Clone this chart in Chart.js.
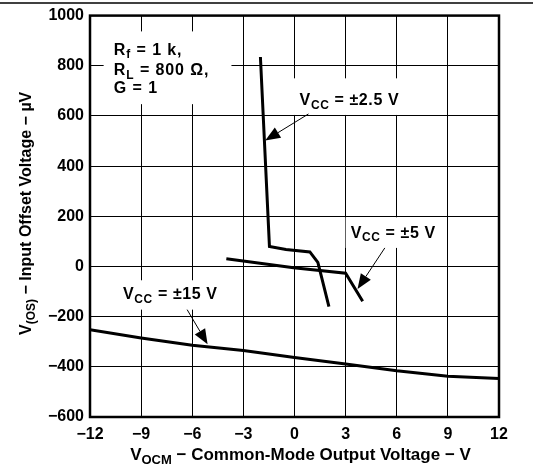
<!DOCTYPE html>
<html>
<head>
<meta charset="utf-8">
<script src="https://cdn.jsdelivr.net/npm/chart.js@4/dist/chart.umd.min.js"></script>
<style>
  body { margin: 0; background: #fff; }
  #wrap { width: 533px; height: 470px; }
</style>
</head>
<body>
<div id="wrap"><canvas id="offsetChart" width="533" height="470"></canvas></div>
<script>
// Datos (V_OCM en V, V_OS en µV)
const vcc25X = [-2.0, -1.47, -0.5, 0.9, 1.37, 1.57, 2.02];
const vcc25Y = [835, 80, 68, 58, 16, -37, -160];

const vcc5X = [-4.0, -0.05, 3.0, 4.0];
const vcc5Y = [31, -5, -27, -139];

const vcc15X = [-12, -9, -6, -3, 0, 3, 6, 9, 12];
const vcc15Y = [-252, -285, -314, -335, -363, -389, -416, -438, -447];

const xTicks = [-12, -9, -6, -3, 0, 3, 6, 9, 12];
const yTicks = [-600, -400, -200, 0, 200, 400, 600, 800, 1000];

const FONT = "'Liberation Sans', Arial, Helvetica, sans-serif";

// Etiquetas (en unidades de datos): caja blanca, texto y flecha
const notes = [
    {
        box: [-11.2, 937, -3.7, 647],
        spacing: 0.9,
        lines: [
            { x: -10.6, y: 862, parts: [['R'], ['f', true], [' = 1 k,']] },
            { x: -10.6, y: 780, parts: [['R'], ['L', true], [' = 800 \u03A9,']] },
            { x: -10.6, y: 710, parts: [['G = 1']] }
        ]
    },
    {
        box: [-0.25, 750, 6.8, 604],
        spacing: 0.6,
        lines: [{ x: 0.3, y: 662, parts: [['V'], ['CC', true], [' = \u00B12.5 V']] }],
        arrow: [0.82, 608, -1.72, 502]
    },
    {
        box: [3.0, 196, 8.9, 74],
        spacing: 0.6,
        lines: [{ x: 3.3, y: 133, parts: [['V'], ['CC', true], [' = \u00B15 V']] }],
        arrow: [5.3, 74, 3.7, -90]
    },
    {
        box: [-10.5, -55, -4.06, -172],
        spacing: 0.6,
        lines: [{ x: -10.06, y: -114, parts: [['V'], ['CC', true], [' = \u00B115 V']] }],
        arrow: [-6.3, -172, -5.1, -310]
    }
];

function toPoints(xs, ys) {
    return xs.map((x, i) => ({ x: x, y: ys[i] }));
}

function fmt(v) {
    return String(v).replace('-', '\u2212');
}

// Texto con subíndices
function drawRich(ctx, parts, x, y, size) {
    let cx = x;
    parts.forEach(p => {
        const sub = p[1] === true;
        ctx.font = `bold ${sub ? Math.round(size * 0.78) : size}px ${FONT}`;
        ctx.fillText(p[0], cx, sub ? y + size * 0.3 : y);
        cx += ctx.measureText(p[0]).width;
    });
    return cx - x;
}

function measureRich(ctx, parts, size) {
    let w = 0;
    parts.forEach(p => {
        const sub = p[1] === true;
        ctx.font = `bold ${sub ? Math.round(size * 0.78) : size}px ${FONT}`;
        w += ctx.measureText(p[0]).width;
    });
    return w;
}

function drawArrow(ctx, x1, y1, x2, y2) {
    const ang = Math.atan2(y2 - y1, x2 - x1);
    const len = 15, half = 6;
    const bx = x2 - len * Math.cos(ang), by = y2 - len * Math.sin(ang);
    ctx.save();
    ctx.strokeStyle = '#000';
    ctx.lineWidth = 1;
    ctx.beginPath();
    ctx.moveTo(x1, y1);
    ctx.lineTo(bx, by);
    ctx.stroke();
    ctx.fillStyle = '#000';
    ctx.beginPath();
    ctx.moveTo(x2, y2);
    ctx.lineTo(bx + half * Math.sin(ang), by - half * Math.cos(ang));
    ctx.lineTo(bx - half * Math.sin(ang), by + half * Math.cos(ang));
    ctx.closePath();
    ctx.fill();
    ctx.restore();
}

const decorPlugin = {
    id: 'decor',
    beforeDatasetsDraw(chart) {
        const { ctx, scales: { x, y } } = chart;
        ctx.save();
        ctx.fillStyle = '#fff';
        notes.forEach(n => {
            const l = x.getPixelForValue(n.box[0]), t = y.getPixelForValue(n.box[1]);
            const r = x.getPixelForValue(n.box[2]), b = y.getPixelForValue(n.box[3]);
            ctx.fillRect(l, t, r - l, b - t);
        });
        ctx.restore();
    },
    afterDatasetsDraw(chart) {
        const { ctx, chartArea: a, scales: { x, y } } = chart;
        ctx.save();
        ctx.fillStyle = '#000';
        ctx.textBaseline = 'middle';
        ctx.textAlign = 'left';
        notes.forEach(n => {
            ctx.letterSpacing = n.spacing + 'px';
            n.lines.forEach(ln => {
                drawRich(ctx, ln.parts, x.getPixelForValue(ln.x), y.getPixelForValue(ln.y), 16);
            });
            ctx.letterSpacing = '0px';
            if (n.arrow) {
                drawArrow(ctx,
                    x.getPixelForValue(n.arrow[0]), y.getPixelForValue(n.arrow[1]),
                    x.getPixelForValue(n.arrow[2]), y.getPixelForValue(n.arrow[3]));
            }
        });

        // Marco del gráfico
        ctx.strokeStyle = '#000';
        ctx.lineWidth = 2.5;
        ctx.strokeRect(a.left, a.top, a.right - a.left, a.bottom - a.top);

        // Línea de cabecera de la página
        ctx.lineWidth = 1.5;
        ctx.beginPath();
        ctx.moveTo(0, 3);
        ctx.lineTo(chart.width, 3);
        ctx.stroke();

        // Títulos de los ejes
        const xTitle = [['V'], ['OCM', true], [' \u2212 Common-Mode Output Voltage \u2212 V']];
        const xw = measureRich(ctx, xTitle, 17);
        drawRich(ctx, xTitle, (a.left + a.right) / 2 + 6 - xw / 2, 455, 17);

        const yTitle = [['V'], ['(OS)', true], [' \u2212 Input Offset Voltage \u2212 \u00B5V']];
        const yw = measureRich(ctx, yTitle, 16);
        ctx.translate(27, (a.top + a.bottom) / 2 - 3);
        ctx.rotate(-Math.PI / 2);
        drawRich(ctx, yTitle, -yw / 2, 0, 16);
        ctx.restore();
    }
};

const lineStyle = {
    borderColor: '#000',
    borderWidth: 3,
    pointRadius: 0,
    tension: 0,
    fill: false
};

new Chart(document.getElementById('offsetChart'), {
    type: 'line',
    data: {
        datasets: [
            Object.assign({ label: 'VCC = \u00B12.5 V', data: toPoints(vcc25X, vcc25Y) }, lineStyle),
            Object.assign({ label: 'VCC = \u00B15 V', data: toPoints(vcc5X, vcc5Y) }, lineStyle),
            Object.assign({ label: 'VCC = \u00B115 V', data: toPoints(vcc15X, vcc15Y) }, lineStyle)
        ]
    },
    options: {
        responsive: false,
        animation: false,
        events: [],
        layout: { padding: { top: 10, right: 34, bottom: 0, left: 0 } },
        plugins: {
            legend: { display: false },
            tooltip: { enabled: false }
        },
        scales: {
            x: {
                type: 'linear',
                min: -12,
                max: 12,
                afterBuildTicks: s => { s.ticks = xTicks.map(v => ({ value: v })); },
                afterFit: s => { s.height = 53; },
                grid: { color: '#000', lineWidth: 1, drawTicks: false },
                border: { display: false },
                ticks: {
                    color: '#000',
                    padding: 8,
                    maxRotation: 0,
                    font: { family: FONT, size: 16, weight: 'bold' },
                    callback: v => fmt(v)
                }
            },
            y: {
                type: 'linear',
                min: -600,
                max: 1000,
                afterBuildTicks: s => { s.ticks = yTicks.map(v => ({ value: v })); },
                afterFit: s => { s.width = 90; },
                grid: { color: '#000', lineWidth: 1, drawTicks: false },
                border: { display: false },
                ticks: {
                    color: '#000',
                    padding: 6,
                    font: { family: FONT, size: 16, weight: 'bold' },
                    callback: v => fmt(v)
                }
            }
        }
    },
    plugins: [decorPlugin]
});
</script>
</body>
</html>
